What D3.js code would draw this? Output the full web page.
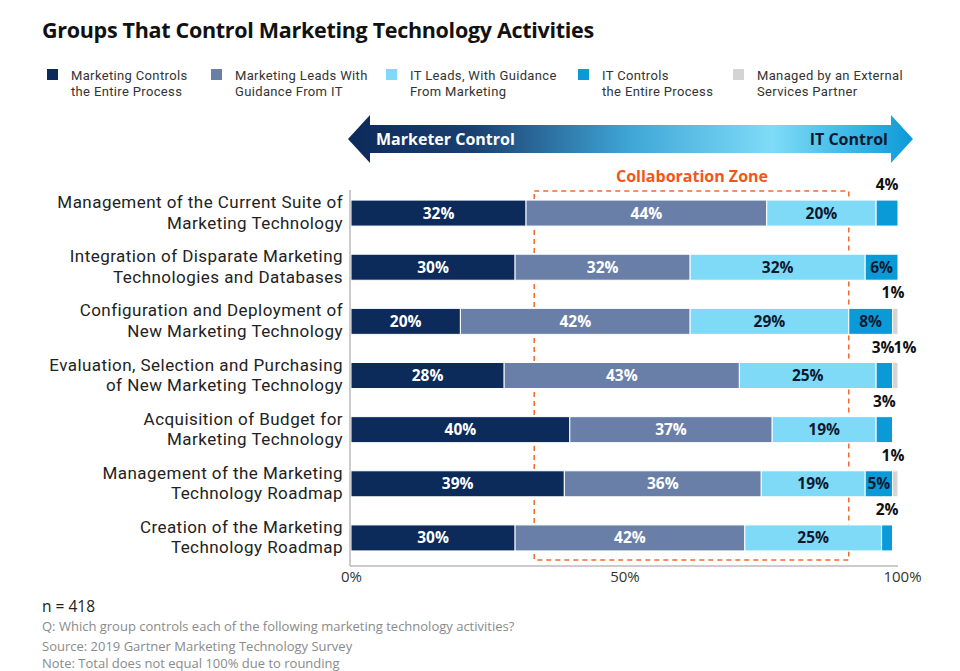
<!DOCTYPE html>
<html><head><meta charset="utf-8">
<script src="https://cdn.jsdelivr.net/npm/d3@7"></script>
<style>
body{margin:0;background:#fff;}
svg{font-family:"Open Sans", Roboto, sans-serif;}
.tight{font-family:Roboto, "Open Sans", sans-serif;}
</style></head>
<body><svg id="c" width="960" height="671"></svg>
<script>
const categories = [
  ["Management of the Current Suite of","Marketing Technology"],
  ["Integration of Disparate Marketing","Technologies and Databases"],
  ["Configuration and Deployment of","New Marketing Technology"],
  ["Evaluation, Selection and Purchasing","of New Marketing Technology"],
  ["Acquisition of Budget for","Marketing Technology"],
  ["Management of the Marketing","Technology Roadmap"],
  ["Creation of the Marketing","Technology Roadmap"]
];
const seriesNames = [
  ["Marketing Controls","the Entire Process"],
  ["Marketing Leads With","Guidance From IT"],
  ["IT Leads, With Guidance","From Marketing"],
  ["IT Controls","the Entire Process"],
  ["Managed by an External","Services Partner"]
];
const marketingControls = [32,30,20,28,40,39,30];
const marketingLeads    = [44,32,42,43,37,36,42];
const itLeads           = [20,32,29,25,19,19,25];
const itControls        = [4,6,8,3,3,5,2];
const externalPartner   = [0,0,1,1,0,1,0];
const tickValues = [0,50,100];
const colors = ["#0c2a5a","#6a7fa8","#7fdaf8","#0b9ad8","#d4d4d4"];

const series = [marketingControls, marketingLeads, itLeads, itControls, externalPartner];
const svg = d3.select("#c");

// Title
svg.append("text").attr("x",42).attr("y",38).attr("font-size",21.5).attr("font-weight",700)
  .attr("fill","#111").attr("letter-spacing","-0.3").text("Groups That Control Marketing Technology Activities");

// Legend
const legX = [47,211,386,578,733];
seriesNames.forEach((n,i)=>{
  svg.append("rect").attr("x",legX[i]).attr("y",69).attr("width",11).attr("height",11).attr("fill",colors[i]);
  n.forEach((line,li)=>svg.append("text").attr("class","tight").attr("x",legX[i]+24).attr("y",80+li*16)
    .attr("font-size",13).attr("letter-spacing","0.35").attr("fill","#333").text(line));
});

const x = d3.scaleLinear().domain([0,100]).range([351,898]);
const y = d3.scalePoint().domain(d3.range(categories.length)).range([186,565]).padding(0.5);
const bh = 26;

// Arrow with gradient
const defs = svg.append("defs");
const g = defs.append("linearGradient").attr("id","arr").attr("x1","0").attr("x2","1");
g.append("stop").attr("offset","0%").attr("stop-color","#0c2a5a");
g.append("stop").attr("offset","22%").attr("stop-color","#1a3f70");
g.append("stop").attr("offset","50%").attr("stop-color","#3fa6d6");
g.append("stop").attr("offset","75%").attr("stop-color","#7fdcf8");
g.append("stop").attr("offset","100%").attr("stop-color","#0b9ad8");
const ax0 = 348, ax1 = 913, ayc = 139, head = 22;
svg.append("path").attr("fill","url(#arr)")
  .attr("d",`M${ax0},${ayc} L${ax0+head},${ayc-24} L${ax0+head},${ayc-14} L${ax1-head},${ayc-14} L${ax1-head},${ayc-24} L${ax1},${ayc} L${ax1-head},${ayc+24} L${ax1-head},${ayc+14} L${ax0+head},${ayc+14} L${ax0+head},${ayc+24} Z`);
svg.append("text").attr("x",376).attr("y",145).attr("font-size",16).attr("font-weight",700).attr("fill","#fff").text("Marketer Control");
svg.append("text").attr("x",888).attr("y",145).attr("text-anchor","end").attr("font-size",16).attr("font-weight",700).attr("fill","#0c1a30").text("IT Control");

// Collaboration zone
svg.append("rect").attr("x",x(33.5)).attr("y",191).attr("width",x(91)-x(33.5)).attr("height",369)
  .attr("fill","none").attr("stroke","#f26a2e").attr("stroke-width",1.5).attr("stroke-dasharray","5,4");
svg.append("text").attr("x",692).attr("y",182).attr("text-anchor","middle").attr("font-size",16).attr("font-weight",700)
  .attr("fill","#f0561e").text("Collaboration Zone");

// Bars
categories.forEach((c,ri)=>{
  let acc = 0;
  const segs = series.map((s,si)=>{const v=s[ri]; const o={si,v,x0:acc,x1:acc+v}; acc+=v; return o;});
  const row = svg.append("g");
  row.selectAll("rect").data(segs.filter(d=>d.v>0)).join("rect")
    .attr("x",d=>x(d.x0)).attr("y",y(ri)-bh/2).attr("width",d=>x(d.x1)-x(d.x0)).attr("height",bh)
    .attr("fill",d=>colors[d.si]).attr("stroke","#fff").attr("stroke-width",1);
  segs.filter(d=>d.v>=5).forEach(d=>{
    row.append("text").attr("x",(x(d.x0)+x(d.x1))/2).attr("y",y(ri)+5.5).attr("text-anchor","middle")
      .attr("font-size",15.5).attr("font-weight",700).attr("fill",d.si<2?"#fff":"#0c1a30").text(d.v+"%");
  });
  const small = segs.filter(d=>d.v>0 && d.v<5);
  if(small.length===1){
    const d = small[0];
    row.append("text").attr("x",Math.min((x(d.x0)+x(d.x1))/2,893)).attr("y",y(ri)-23).attr("text-anchor","middle")
      .attr("font-size",15.5).attr("font-weight",700).attr("fill","#111").text(d.v+"%");
  } else if(small.length===2){
    const j = x(small[1].x0);
    row.append("text").attr("x",j+2).attr("y",y(ri)-23).attr("text-anchor","end")
      .attr("font-size",15.5).attr("font-weight",700).attr("fill","#111").text(small[0].v+"%");
    row.append("text").attr("x",j+1).attr("y",y(ri)-23).attr("text-anchor","start")
      .attr("font-size",15.5).attr("font-weight",700).attr("fill","#111").text(small[1].v+"%");
  }
  c.forEach((line,li)=>svg.append("text").attr("class","tight").attr("x",343).attr("y",y(ri)-5+li*20.5).attr("text-anchor","end")
    .attr("font-size",17).attr("letter-spacing","0.45").attr("fill","#222").text(line));
});

// Axes
svg.append("line").attr("x1",350).attr("x2",350).attr("y1",190).attr("y2",566).attr("stroke","#999").attr("stroke-width",1);
const xAxis = d3.axisBottom(x).tickValues(tickValues).tickFormat(d=>d+"%").tickSize(0).tickPadding(5);
const xg = svg.append("g").attr("transform","translate(0,566)").call(xAxis);
xg.select(".domain").attr("stroke","#999").attr("d",`M350,0H898`);
xg.selectAll("text").attr("font-size",15).attr("fill","#333").attr("font-family","'Open Sans', sans-serif");
xg.selectAll(".tick text").filter(d=>d===100).attr("dx",4);

// Footer
svg.append("text").attr("x",42).attr("y",612).attr("font-size",15.5).attr("fill","#222").text("n = 418");
const foot = ["Q: Which group controls each of the following marketing technology activities?",
  "Source: 2019 Gartner Marketing Technology Survey","Note: Total does not equal 100% due to rounding"];
const footY = [631,651,668];
foot.forEach((f,i)=>svg.append("text").attr("x",42).attr("y",footY[i]).attr("font-size",13).attr("fill","#8a8a8a").text(f));
</script></body></html>
